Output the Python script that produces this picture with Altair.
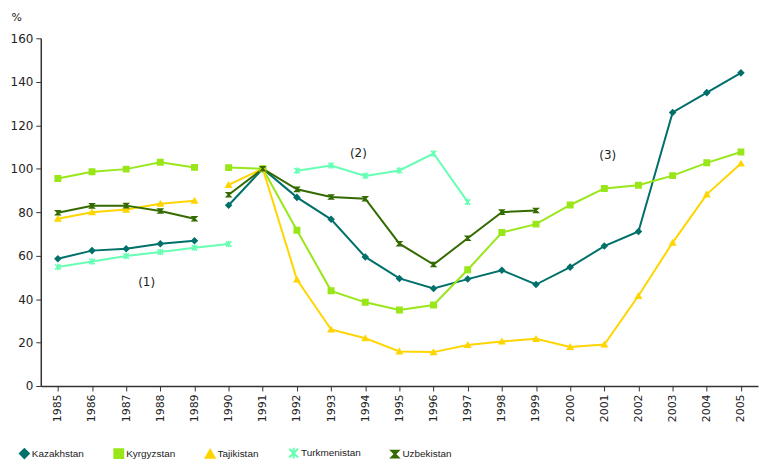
import altair as alt
import pandas as pd

years = list(range(1985, 2006))
countries = ["Kazakhstan", "Kyrgyzstan", "Tajikistan", "Turkmenistan", "Uzbekistan"]
colors = ["#00706a", "#99e619", "#ffd500", "#66ffb3", "#336b00"]
shapes = ["diamond", "square", "triangle-up",
          "M-1,-1L1,1M-1,1L1,-1M0,-1.2V1.2",
          "M-0.75,-0.75L0.75,-0.75L-0.75,0.75L0.75,0.75Z"]

kazakhstan = [58.6, 62.3, 63.2, 65.5, 66.8, 83.2, 100, 86.8, 76.7, 59.4, 49.5, 44.9, 49.2,
              53.3, 46.7, 54.7, 64.4, 71.1, 125.9, 135.0, 144.1]
kyrgyzstan = [95.5, 98.6, 99.8, 103.0, 100.6, 100.5, 100, 71.7, 43.8, 38.5, 35.0, 37.3, 53.5,
              70.6, 74.5, 83.3, 90.9, 92.4, 96.8, 102.7, 107.7]
tajikistan = [77.0, 80.0, 81.2, 83.9, 85.3, 92.6, 100, 49.0, 26.0, 22.0, 15.9, 15.6, 18.9,
              20.5, 21.7, 18.0, 19.1, 41.5, 66.0, 88.2, 102.4]
turkmenistan = [54.8, 57.3, 59.8, 61.7, 63.6, 65.3, None, 99.1, 101.5, 96.7, 99.2, 107.0, 84.7,
                None, None, None, None, None, None, None, None]
uzbekistan = [79.7, 82.9, 83.0, 80.5, 77.0, 88.0, 100, 90.5, 87.0, 86.2, 65.5, 55.9, 68.0,
              80.0, 80.8, None, None, None, None, None, None]
series = [kazakhstan, kyrgyzstan, tajikistan, turkmenistan, uzbekistan]
# years where a new line segment starts (series breaks)
breaks = [[1990], [1990], [1990], [], [1990]]

ann_labels = ["(1)", "(2)", "(3)"]
ann_x = [1987.6, 1993.8, 2001.1]
ann_y = [47.7, 107.3, 106.4]

rows = []
for c, vals, brk in zip(countries, series, breaks):
    seg = 0
    prev_none = False
    for yr, v in zip(years, vals):
        if v is None:
            prev_none = True
            continue
        if prev_none or yr in brk:
            seg += 1
        prev_none = False
        rows.append({"country": c, "marker": c, "year": yr, "value": v, "seg": f"{c}-{seg}"})
df = pd.DataFrame(rows)
ann = pd.DataFrame({"label": ann_labels, "x": ann_x, "y": ann_y})

xscale = alt.Scale(domain=[1984.5, 2005.5], nice=False, zero=False)
yscale = alt.Scale(domain=[0, 160], nice=False)
cscale = alt.Scale(domain=countries, range=colors)

x = alt.X("year:Q", scale=xscale,
          axis=alt.Axis(values=years, tickCount=len(years), format="d", labelAngle=-90,
                        labelAlign="right", labelBaseline="middle", grid=False, title=None,
                        labelFontSize=11, labelPadding=3, labelOverlap=False, labelFlush=False))
y = alt.Y("value:Q", scale=yscale,
          axis=alt.Axis(values=list(range(0, 161, 20)), grid=False, title="%",
                        titleAngle=0, titleX=-30, titleY=-16, titleAlign="left",
                        titleFontWeight="normal", titleFontSize=11, labelFontSize=12,
                        labelPadding=3))

lines = alt.Chart(df).mark_line(strokeWidth=2).encode(
    x=x, y=y,
    color=alt.Color("country:N", scale=cscale,
                    legend=alt.Legend(title=None, orient="none", direction="horizontal",
                                      legendX=-22, legendY=412,
                                      symbolType="M-1,0H1M-0.3,-0.3H0.3V0.3H-0.3Z",
                                      symbolSize=80, symbolStrokeWidth=2,
                                      labelFont="Liberation Sans", labelFontSize=10,
                                      columnPadding=26, symbolOffset=0, labelOffset=2)),
    detail="seg:N",
    order="year:Q",
)

points = alt.Chart(df).mark_point(filled=True, size=30, opacity=1, strokeWidth=1.5).encode(
    x=x, y=y,
    fill=alt.Fill("marker:N", scale=cscale, legend=None),
    stroke=alt.Stroke("marker:N", scale=cscale, legend=None),
    shape=alt.Shape("marker:N", scale=alt.Scale(domain=countries, range=shapes), legend=None),
)

texts = alt.Chart(ann).mark_text(fontSize=12, color="#222", font="DejaVu Sans").encode(
    x=alt.X("x:Q", scale=xscale), y=alt.Y("y:Q", scale=yscale), text="label:N"
)

chart = alt.layer(lines, points, texts).properties(
    width=722, height=350, padding={"left": 2, "top": 2, "right": 2, "bottom": 0}
).configure_view(stroke=None).configure_axis(
    domainColor="#333", domainWidth=1.5, tickColor="#333", tickSize=5,
    labelColor="#222", titleColor="#222", labelFont="DejaVu Sans", titleFont="DejaVu Sans"
).configure_legend(labelColor="#222")

chart.save("out.html", embed_options={"renderer": "svg", "actions": False})
